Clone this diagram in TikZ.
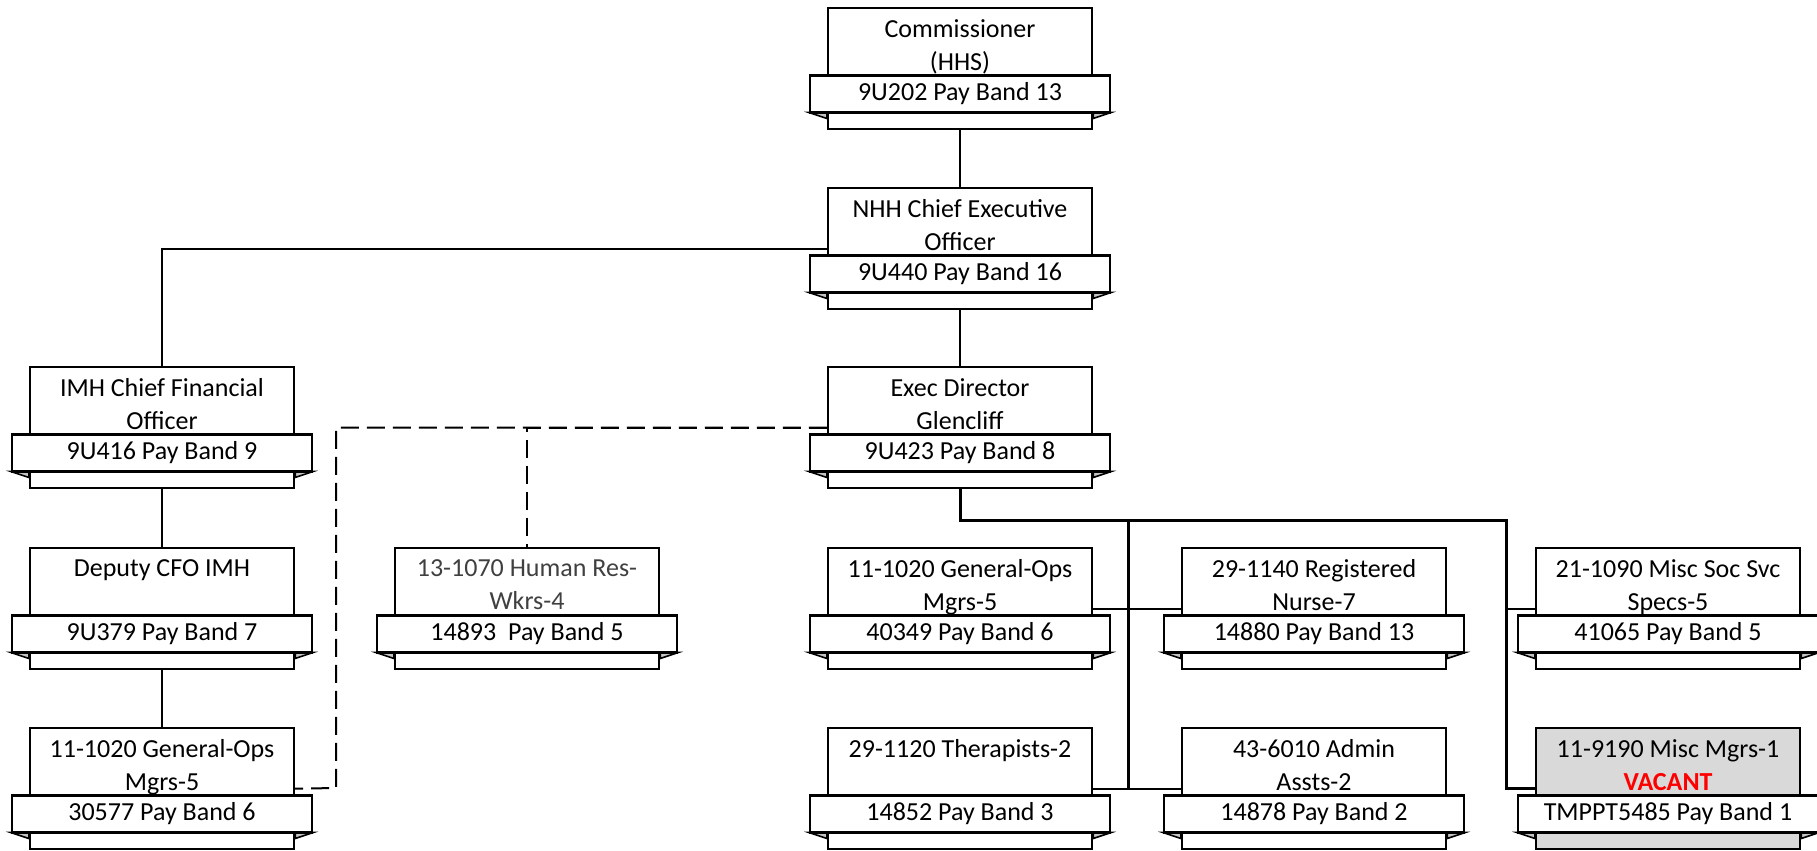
\documentclass[tikz,border=0pt]{standalone}
\usepackage{fontspec}
\setmainfont{Carlito}
\usepackage{tikz}
\usetikzlibrary{calc}

\definecolor{foldgrey}{HTML}{C4C4C4}
\definecolor{vacantgrey}{HTML}{D9D9D9}
\definecolor{hrgrey}{HTML}{404040}
\definecolor{vacantred}{HTML}{FF0000}

\tikzset{
  post/.style={draw, line width=1.2pt, fill=white, anchor=north,
    minimum width=132pt, minimum height=60.5pt, inner sep=0pt},
  title/.style={anchor=north, align=center, inner sep=0pt,
    font=\fontsize{13}{16.5}\selectfont},
  band/.style={draw, line width=1.2pt, fill=white, inner sep=0pt,
    minimum width=150pt, minimum height=18.5pt,
    font=\fontsize{13}{16.5}\selectfont},
  fold/.style={draw, line width=0.8pt, fill=foldgrey},
  link/.style={line width=1pt},
  trunk/.style={line width=1.5pt},
  dashlink/.style={line width=1pt, dash pattern=on 9pt off 4pt}
}

% one post: rectangle, pay band with folds, title
\newcommand{\postbox}[5][]{%
  \node (#2) at (#3) [post, #1] {};
  \filldraw [fold] ([yshift=-52.75pt]#2.north west) -- ++(-9pt,0pt) -- ++(9pt,-3pt) -- cycle;
  \filldraw [fold] ([yshift=-52.75pt]#2.north east) -- ++(9pt,0pt) -- ++(-9pt,-3pt) -- cycle;
  \node (#2-band) at ([yshift=-43.5pt]#2.north) [band] {#5};
  \node (#2-title) at ([yshift=-6pt]#2.north) [title, #1] {#4};
}

\begin{document}
\begin{tikzpicture}[x=0.5pt, y=-0.5pt]
  \useasboundingbox (0,0) rectangle (1817,851);

  \postbox{hhs}{960,7}{Commissioner\\(HHS)}{9U202 Pay Band 13}
  \postbox{nhh}{960,187}{NHH Chief Executive\\Officer}{9U440 Pay Band 16}
  \postbox{cfo}{162,366}{IMH Chief Financial\\Officer}{9U416 Pay Band 9}
  \postbox{exec}{960,366}{Exec Director\\Glencliff}{9U423 Pay Band 8}
  \postbox{dep}{162,547}{Deputy CFO IMH}{9U379 Pay Band 7}
  \postbox[text=hrgrey]{hr}{527,547}{13-1070 Human Res-\\Wkrs-4}{14893\ \ Pay Band 5}
  \postbox{genops}{960,547}{11-1020 General-Ops\\Mgrs-5}{40349 Pay Band 6}
  \postbox{rn}{1314,547}{29-1140 Registered\\Nurse-7}{14880 Pay Band 13}
  \postbox{socsvc}{1668,547}{21-1090 Misc Soc Svc\\Specs-5}{41065 Pay Band 5}
  \postbox{opsmgr}{162,727}{11-1020 General-Ops\\Mgrs-5}{30577 Pay Band 6}
  \postbox{ther}{960,727}{29-1120 Therapists-2}{14852 Pay Band 3}
  \postbox{admin}{1314,727}{43-6010 Admin\\Assts-2}{14878 Pay Band 2}
  \postbox[fill=vacantgrey]{misc}{1668,727}{11-9190 Misc Mgrs-1\\\textcolor{vacantred}{\textbf{VACANT}}}{TMPPT5485 Pay Band 1}

  \coordinate (trunkL) at (1128,520);
  \coordinate (trunkR) at (1506,520);
  \coordinate (finbend) at (336,788);

  \draw [link] (hhs.south) -- (nhh.north);
  \draw [link] (nhh.south) -- (exec.north);
  \draw [link] (nhh.west) -| (cfo.north);
  \draw [link] (cfo.south) -- (dep.north);
  \draw [link] (dep.south) -- (opsmgr.north);
  \draw [dashlink] (exec.west) -| (hr.north);
  \draw [dashlink] (exec.west) -| (finbend) -- (opsmgr.east);
  \draw [trunk] (exec.south) |- (trunkR) |- (misc.west);
  \draw [trunk] (trunkL) -- (trunkL |- ther.east);
  \draw [link] (genops.east) -- (rn.west);
  \draw [link] (ther.east) -- (admin.west);
  \draw [link] (trunkR |- socsvc.west) -- (socsvc.west);
\end{tikzpicture}
\end{document}
